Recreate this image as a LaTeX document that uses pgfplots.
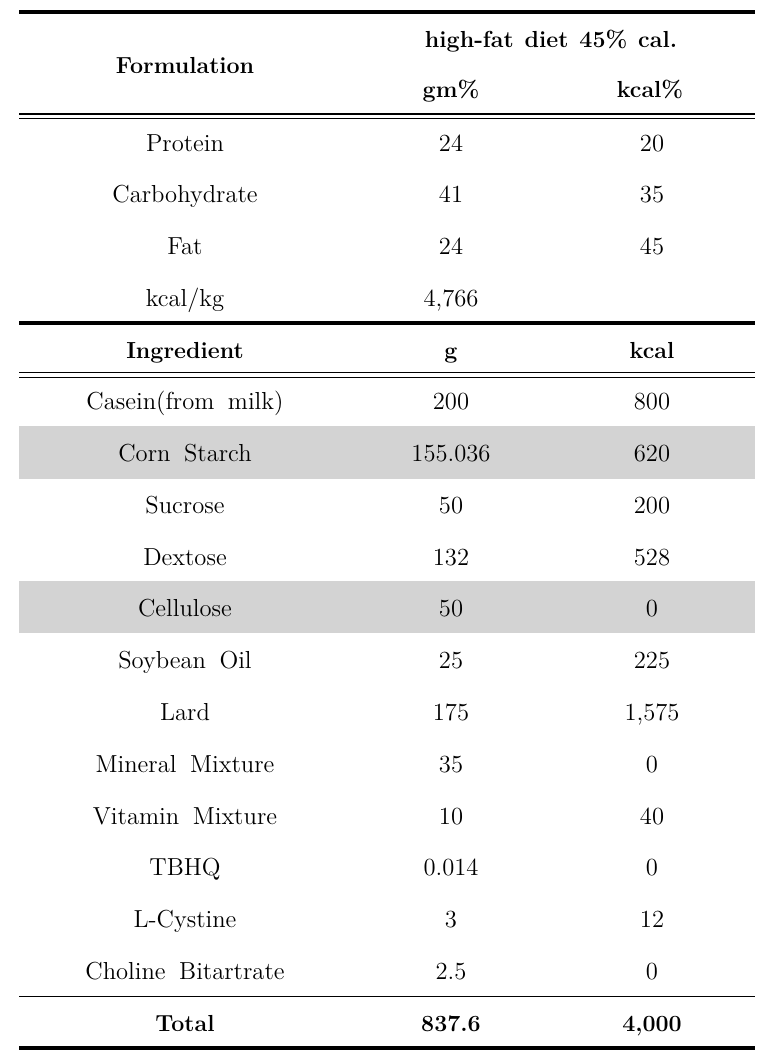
\documentclass[border=0pt]{standalone}
\usepackage{pgfplots}
\usepackage{pgfplotstable}
\pgfplotsset{compat=1.18}
\definecolor{band}{RGB}{211,211,211}
\newcommand\ws{\hspace{0.55em}}
\newcommand\wb{\hspace{0.47em}}

% body text: x (px), baseline y (px from top), label
\pgfplotstableread[col sep=semicolon]{
x;y;label
185;151;Protein
451;151;24
652;151;20
185;202;Carbohydrate
451;202;41
652;202;35
185;254;Fat
451;254;24
652;254;45
185;306;kcal/kg
451;306;4,766
185;409;Casein(from\ws milk)
451;409;200
652;409;800
185;461;Corn\ws Starch
451;461;155.036
652;461;620
185;513;Sucrose
451;513;50
652;513;200
185;565;Dextose
451;565;132
652;565;528
185;616;Cellulose
451;616;50
652;616;0
185;668;Soybean\ws Oil
451;668;25
652;668;225
185;720;Lard
451;720;175
652;720;1,575
185;772;Mineral\ws Mixture
451;772;35
652;772;0
185;824;Vitamin\ws Mixture
451;824;10
652;824;40
185;875;TBHQ
451;875;0.014
652;875;0
185;927;L-Cystine
451;927;3
652;927;12
185;979;Choline\ws Bitartrate
451;979;2.5
652;979;0
}\bodytab

% bold header text
\pgfplotstableread[col sep=semicolon]{
x;y;label
551;47;high-fat\wb diet\wb 45\%\wb cal.
185;73;Formulation
451;97;gm\%
650;97;kcal\%
185;358;Ingredient
451;358;g
652;358;kcal
185;1031;Total
451;1031;837.6
652;1031;4,000
}\headtab

\begin{document}
\begin{tikzpicture}
\begin{axis}[
  width=383.5pt, height=528pt, scale only axis,
  xmin=0, xmax=767, ymin=0, ymax=1056, y dir=reverse,
  hide axis, clip=false,
]
% shaded rows
\addplot[fill=band, draw=none] coordinates {(19,426) (755,426) (755,479) (19,479)} -- cycle;
\addplot[fill=band, draw=none] coordinates {(19,581) (755,581) (755,633) (19,633)} -- cycle;
% rules
\addplot[black, line width=2pt] coordinates {(19,12) (755,12)};
\addplot[black, line width=0.75pt] coordinates {(19,114) (755,114)};
\addplot[black, line width=0.75pt] coordinates {(19,118.5) (755,118.5)};
\addplot[black, line width=2pt] coordinates {(19,323) (755,323)};
\addplot[black, line width=0.75pt] coordinates {(19,372.5) (755,372.5)};
\addplot[black, line width=0.75pt] coordinates {(19,377.5) (755,377.5)};
\addplot[black, line width=0.75pt] coordinates {(19,996.5) (755,996.5)};
\addplot[black, line width=2pt] coordinates {(19,1048) (755,1048)};
% text
\addplot[draw=none, mark=none, nodes near coords, point meta=explicit symbolic,
  nodes near coords style={anchor=base, inner sep=0pt, font=\fontsize{12.3pt}{14pt}\selectfont, text=black}]
  table[x=x, y=y, meta=label] {\bodytab};
\addplot[draw=none, mark=none, nodes near coords, point meta=explicit symbolic,
  nodes near coords style={anchor=base, inner sep=0pt, font=\fontsize{11.6pt}{14pt}\selectfont\bfseries, text=black}]
  table[x=x, y=y, meta=label] {\headtab};
\path (axis cs:0,0) rectangle (axis cs:767,1056);
\end{axis}
\end{tikzpicture}
\end{document}
